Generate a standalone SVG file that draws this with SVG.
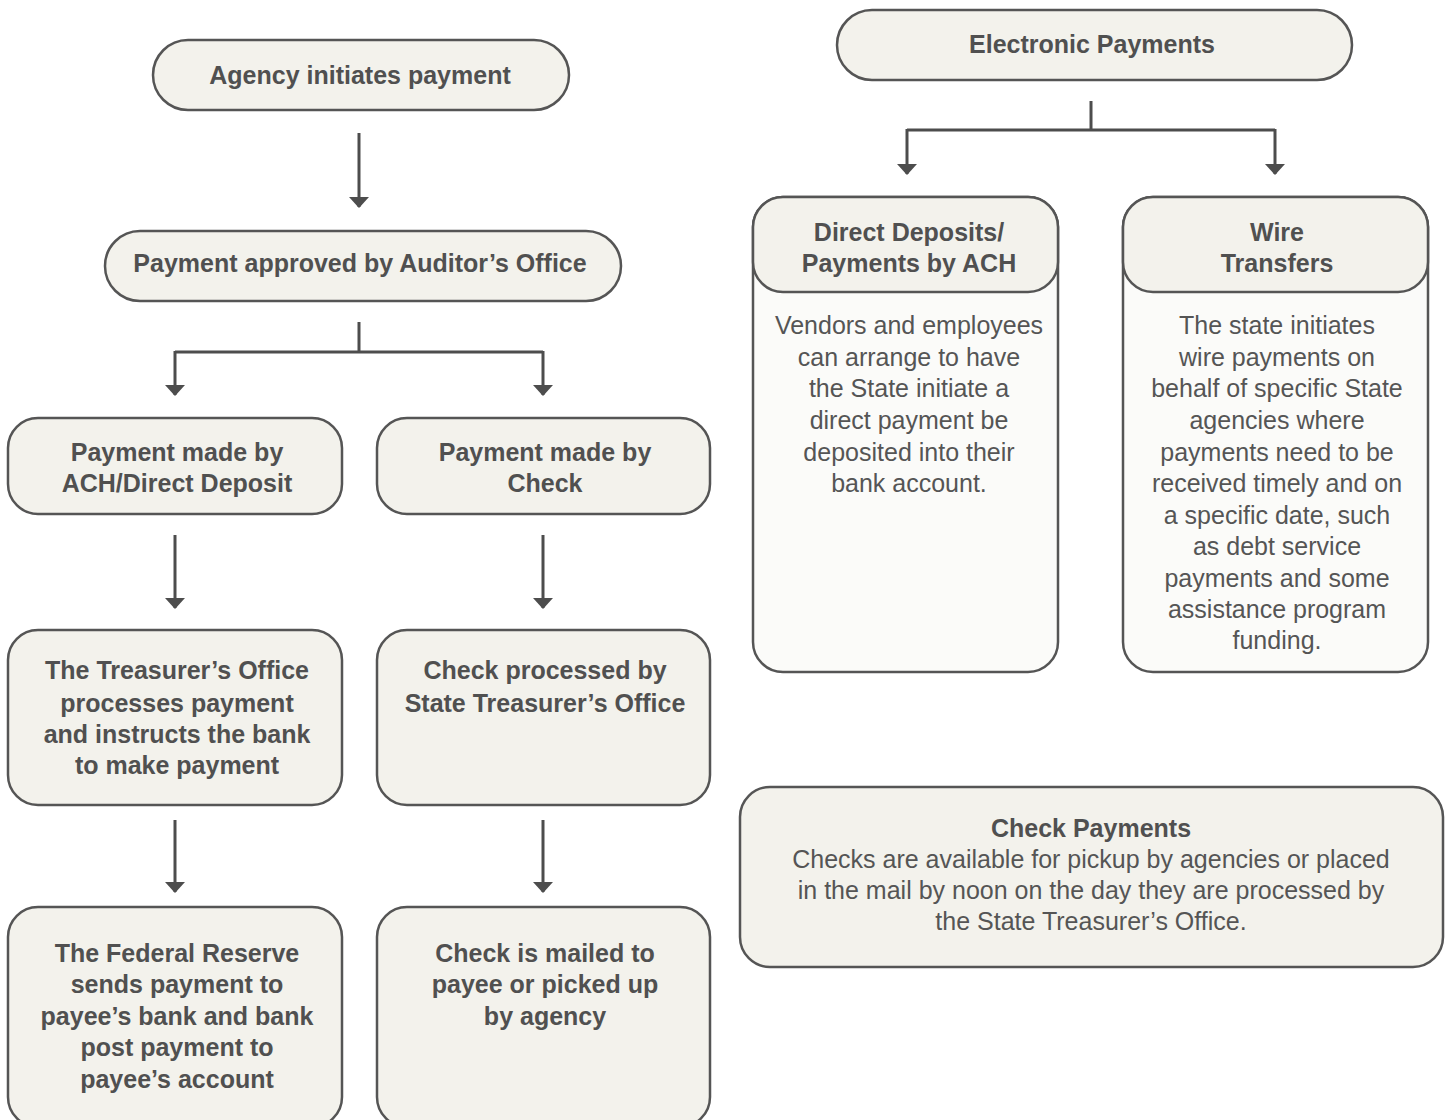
<svg xmlns="http://www.w3.org/2000/svg" width="1445" height="1120" viewBox="0 0 1445 1120">
<defs>
<style>
.box{fill:#f3f2ec;stroke:#555;stroke-width:2.5}
.body{fill:#fbfbf9;stroke:#555;stroke-width:2.5}
.h{font-family:"Liberation Sans",Arial,sans-serif;font-weight:bold;font-size:25px;fill:#505050;text-anchor:middle}
.t{font-family:"Liberation Sans",Arial,sans-serif;font-size:25px;fill:#555;text-anchor:middle}
.c{fill:none;stroke:#4d4d4d;stroke-width:3}
</style>
<marker id="ah" viewBox="0 0 11 20" refX="10" refY="10" markerWidth="11" markerHeight="20" markerUnits="userSpaceOnUse" orient="auto">
<path d="M0,0 L11,10 L0,20 z" fill="#4d4d4d"/>
</marker>
</defs>
<rect width="1445" height="1120" fill="#ffffff"/>
<g id="connectors">
<path class="c" d="M359,133 V207" marker-end="url(#ah)"/>
<path class="c" d="M359,322 V352"/>
<path class="c" d="M175,352 H543"/>
<path class="c" d="M175,351 V395" marker-end="url(#ah)"/>
<path class="c" d="M543,351 V395" marker-end="url(#ah)"/>
<path class="c" d="M175,535 V608" marker-end="url(#ah)"/>
<path class="c" d="M543,535 V608" marker-end="url(#ah)"/>
<path class="c" d="M175,820 V892" marker-end="url(#ah)"/>
<path class="c" d="M543,820 V892" marker-end="url(#ah)"/>
<path class="c" d="M1091,101 V130"/>
<path class="c" d="M907,130 H1275"/>
<path class="c" d="M907,129 V174" marker-end="url(#ah)"/>
<path class="c" d="M1275,129 V174" marker-end="url(#ah)"/>
</g>
<g id="agency">
<rect class="box" x="153" y="40" width="416" height="70" rx="35"/>
<text class="h" x="360" y="84">Agency initiates payment</text>
</g>
<g id="approved">
<rect class="box" x="105" y="231" width="516" height="70" rx="35"/>
<text class="h" x="360" y="272">Payment approved by Auditor’s Office</text>
</g>
<g id="ach">
<rect class="box" x="8" y="418" width="334" height="96" rx="30"/>
<text class="h" x="177" y="461">Payment made by</text>
<text class="h" x="177" y="492">ACH/Direct Deposit</text>
</g>
<g id="check">
<rect class="box" x="377" y="418" width="333" height="96" rx="30"/>
<text class="h" x="545" y="461">Payment made by</text>
<text class="h" x="545" y="492">Check</text>
</g>
<g id="treasurer">
<rect class="box" x="8" y="630" width="334" height="175" rx="30"/>
<text class="h" x="177" y="679">The Treasurer’s Office</text>
<text class="h" x="177" y="712">processes payment</text>
<text class="h" x="177" y="743">and instructs the bank</text>
<text class="h" x="177" y="774">to make payment</text>
</g>
<g id="checkprocessed">
<rect class="box" x="377" y="630" width="333" height="175" rx="30"/>
<text class="h" x="545" y="679">Check processed by</text>
<text class="h" x="545" y="712">State Treasurer’s Office</text>
</g>
<g id="federal">
<rect class="box" x="8" y="907" width="334" height="220" rx="30"/>
<text class="h" x="177" y="962">The Federal Reserve</text>
<text class="h" x="177" y="993">sends payment to</text>
<text class="h" x="177" y="1025">payee’s bank and bank</text>
<text class="h" x="177" y="1056">post payment to</text>
<text class="h" x="177" y="1088">payee’s account</text>
</g>
<g id="mailed">
<rect class="box" x="377" y="907" width="333" height="220" rx="30"/>
<text class="h" x="545" y="962">Check is mailed to</text>
<text class="h" x="545" y="993">payee or picked up</text>
<text class="h" x="545" y="1025">by agency</text>
</g>
<g id="electronic">
<rect class="box" x="837" y="10" width="515" height="70" rx="35"/>
<text class="h" x="1092" y="53">Electronic Payments</text>
</g>
<g id="direct">
<rect class="body" x="753" y="197" width="305" height="475" rx="30"/>
<rect class="box" x="753" y="197" width="305" height="95" rx="30"/>
<text class="h" x="909" y="241">Direct Deposits/</text>
<text class="h" x="909" y="272">Payments by ACH</text>
<text class="t" x="909" y="334">Vendors and employees</text>
<text class="t" x="909" y="366">can arrange to have</text>
<text class="t" x="909" y="397">the State initiate a</text>
<text class="t" x="909" y="429">direct payment be</text>
<text class="t" x="909" y="461">deposited into their</text>
<text class="t" x="909" y="492">bank account.</text>
</g>
<g id="wire">
<rect class="body" x="1123" y="197" width="305" height="475" rx="30"/>
<rect class="box" x="1123" y="197" width="305" height="95" rx="30"/>
<text class="h" x="1277" y="241">Wire</text>
<text class="h" x="1277" y="272">Transfers</text>
<text class="t" x="1277" y="334">The state initiates</text>
<text class="t" x="1277" y="366">wire payments on</text>
<text class="t" x="1277" y="397">behalf of specific State</text>
<text class="t" x="1277" y="429">agencies where</text>
<text class="t" x="1277" y="461">payments need to be</text>
<text class="t" x="1277" y="492">received timely and on</text>
<text class="t" x="1277" y="524">a specific date, such</text>
<text class="t" x="1277" y="555">as debt service</text>
<text class="t" x="1277" y="587">payments and some</text>
<text class="t" x="1277" y="618">assistance program</text>
<text class="t" x="1277" y="649">funding.</text>
</g>
<g id="checkpayments">
<rect class="box" x="740" y="787" width="703" height="180" rx="30"/>
<text class="h" x="1091" y="837">Check Payments</text>
<text class="t" x="1091" y="868">Checks are available for pickup by agencies or placed</text>
<text class="t" x="1091" y="899">in the mail by noon on the day they are processed by</text>
<text class="t" x="1091" y="930">the State Treasurer’s Office.</text>
</g>
</svg>
